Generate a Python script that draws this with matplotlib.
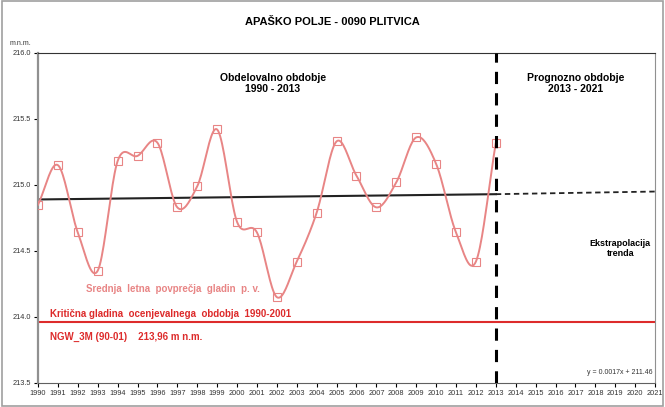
import numpy as np
from matplotlib import pyplot as plt
from matplotlib.patches import Rectangle

years = list(range(1990, 2014))
levels = [214.85, 215.15, 214.64, 214.35, 215.18, 215.22, 215.32, 214.83, 214.99, 215.42,
          214.72, 214.64, 214.15, 214.42, 214.79, 215.33, 215.07, 214.83, 215.02, 215.36,
          215.16, 214.64, 214.42, 215.32]
trend_years = [1990, 2013]
trend_vals = [214.89, 214.93]
ext_years = [2013, 2021]
ext_vals = [214.93, 214.95]
critical = 213.96
xticks = list(range(1990, 2022))
yticks = [213.5, 214.0, 214.5, 215.0, 215.5, 216.0]


def smooth(x, y, n=20):
    # catmull-rom like excel smoothed line
    x = np.array(x, float)
    y = np.array(y, float)
    px = np.concatenate([[2 * x[0] - x[1]], x, [2 * x[-1] - x[-2]]])
    py = np.concatenate([[2 * y[0] - y[1]], y, [2 * y[-1] - y[-2]]])
    xs, ys = [], []
    for i in range(1, len(px) - 2):
        t = np.linspace(0, 1, n, endpoint=False)
        for p, out in ((px, xs), (py, ys)):
            p0, p1, p2, p3 = p[i - 1], p[i], p[i + 1], p[i + 2]
            out.extend(0.5 * ((2 * p1) + (-p0 + p2) * t + (2 * p0 - 5 * p1 + 4 * p2 - p3) * t ** 2
                              + (-p0 + 3 * p1 - 3 * p2 + p3) * t ** 3))
    xs.append(x[-1])
    ys.append(y[-1])
    return xs, ys


plt.rcParams['font.family'] = ['Liberation Sans', 'DejaVu Sans']
fig = plt.figure(figsize=(6.65, 4.07), dpi=100)
fig.patches.append(Rectangle((0.003, 0.003), 0.994, 0.994, transform=fig.transFigure,
                             fill=False, edgecolor='#a0a0a0', lw=1.2))
ax = fig.add_axes([0.0571, 0.059, 0.928, 0.811])

salmon = '#e88585'
red = '#dd2b2b'

sx, sy = smooth(years, levels)
ax.plot(sx, sy, color=salmon, lw=1.4, zorder=3)
ax.plot(years, levels, ls='none', marker='s', ms=5.3, mfc='none', mec=salmon, mew=0.8, zorder=4)
ax.plot(trend_years, trend_vals, color='#222222', lw=1.5, zorder=2)
ax.plot(ext_years, ext_vals, color='#222222', lw=1.3, ls=(0, (3, 2)), zorder=2)
ax.axhline(critical, color=red, lw=1.5, zorder=2)
ax.axvline(2013, color='black', lw=2.2, ls=(0, (4, 3)), zorder=5)

ax.set_xlim(1990, 2021)
ax.set_ylim(213.5, 216.0)
ax.set_xticks(xticks)
ax.set_xticklabels([str(y) for y in xticks], fontsize=5.3, color='#333333')
ax.set_yticks(yticks)
ax.set_yticklabels(['%.1f' % v for v in yticks], fontsize=5.3, color='#333333')
ax.tick_params(axis='both', length=3, width=0.8, pad=2, direction='out')
ax.spines['left'].set_color('#909090')
ax.spines['left'].set_linewidth(1.6)
ax.spines['right'].set_color('#909090')
ax.spines['bottom'].set_color('#606060')
ax.spines['top'].set_color('#333333')

fig.text(0.5, 0.945, 'APAŠKO POLJE - 0090 PLITVICA', ha='center', va='center',
         fontsize=8, fontweight='bold')
fig.text(0.015, 0.893, 'm.n.m.', fontsize=5, color='#333333', va='center')

ax.text(2001.8, 215.77, 'Obdelovalno obdobje\n1990 - 2013', ha='center', va='center',
        fontsize=7.5, fontweight='bold', linespacing=1.1)
ax.text(2017.0, 215.77, 'Prognozno obdobje\n2013 - 2021', ha='center', va='center',
        fontsize=7.5, fontweight='bold', linespacing=1.1)
ax.text(2019.25, 214.52, 'Ekstrapolacija\ntrenda', ha='center', va='center',
        fontsize=6.5, fontweight='bold', linespacing=1.1)
ax.text(1992.4, 214.21, 'Srednja  letna  povprečja  gladin  p. v.', color=salmon,
        fontsize=7, fontweight='bold', va='center')
ax.text(1990.6, 214.02, 'Kritična gladina  ocenjevalnega  obdobja  1990-2001', color=red,
        fontsize=7, fontweight='bold', va='center')
ax.text(1990.6, 213.85, 'NGW_3M (90-01)    213,96 m n.m.', color=red,
        fontsize=7, fontweight='bold', va='center')
ax.text(2020.85, 213.58, 'y = 0.0017x + 211.46', ha='right', va='center',
        fontsize=5, color='#333333')

fig.savefig('out.png', dpi=100)
